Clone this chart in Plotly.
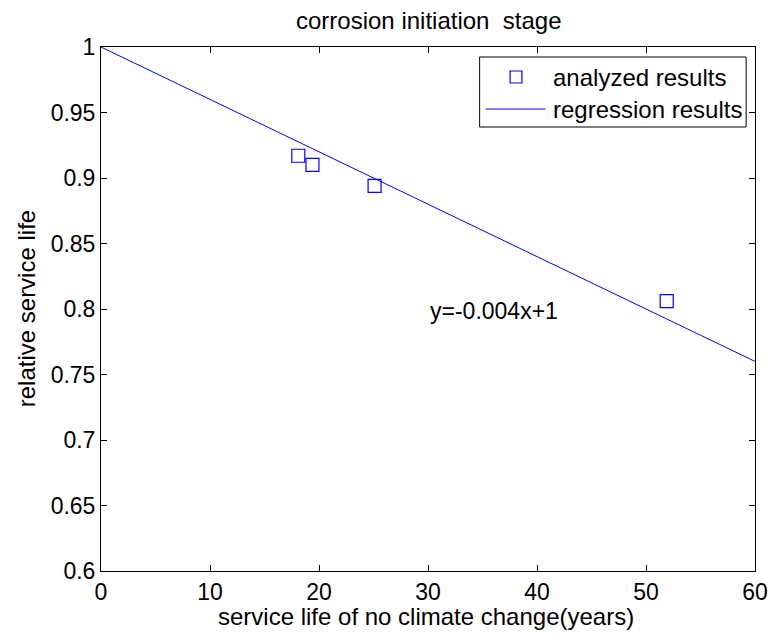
import plotly.graph_objects as go

# Data
analyzed_x = [18.1, 19.4, 25.1, 51.9]
analyzed_y = [0.917, 0.910, 0.894, 0.806]
reg_slope = -0.004
reg_intercept = 1.0
reg_x = [0, 10, 20, 30, 40, 50, 60]
reg_y = [reg_intercept + reg_slope * v for v in reg_x]

x_ticks = [0, 10, 20, 30, 40, 50, 60]
y_ticks = [0.6, 0.65, 0.7, 0.75, 0.8, 0.85, 0.9, 0.95, 1.0]
y_tick_text = ["0.6", "0.65", "0.7", "0.75", "0.8", "0.85", "0.9", "0.95", "1"]

title_text = "corrosion initiation  stage"
x_label = "service life of no climate change(years)"
y_label = "relative service life"
legend_names = ["analyzed results", "regression results"]
eq_text = "y=-0.004x+1"

BLUE = "#0000ff"
FONT = "Liberation Sans, Arial, sans-serif"
FS_TITLE = 24
FS_LABEL = 24
FS_TICK = 23
FS_EQ = 23

L, R, T, B = 101, 14, 47, 64
W, H = 780, 635
PW, PH = W - L - R, H - T - B


def px(xp):
    return (xp - L) / PW


def py(yp):
    return 1 - (yp - T) / PH


fig = go.Figure()
fig.add_trace(go.Scatter(x=reg_x, y=reg_y, mode="lines",
                         line=dict(color=BLUE, width=1), name=legend_names[1],
                         showlegend=False))
fig.add_trace(go.Scatter(x=analyzed_x, y=analyzed_y, mode="markers",
                         marker=dict(symbol="square-open", size=13, color=BLUE,
                                     line=dict(width=1.2, color=BLUE)),
                         name=legend_names[0], showlegend=False))

axis_common = dict(showline=True, linecolor="black", linewidth=1, mirror="ticks",
                   ticks="inside", ticklen=6, tickcolor="black", showgrid=False,
                   zeroline=False, tickfont=dict(family=FONT, size=FS_TICK, color="black"))

fig.update_xaxes(range=[0, 60], tickvals=x_ticks, **axis_common)
fig.update_yaxes(range=[0.6, 1.0], tickvals=y_ticks, ticktext=y_tick_text, **axis_common)

shapes = [
    dict(type="rect", xref="paper", yref="paper", x0=px(486), x1=px(757), y0=py(127), y1=py(57),
         line=dict(color="black", width=1), fillcolor="white", layer="above"),
    dict(type="line", xref="paper", yref="paper", x0=px(492), x1=px(553), y0=py(109), y1=py(109),
         line=dict(color=BLUE, width=1), layer="above"),
    dict(type="rect", xref="paper", yref="paper", x0=px(517), x1=px(529), y0=py(83), y1=py(71),
         line=dict(color=BLUE, width=1.2), layer="above"),
]

annotations = [
    dict(text=title_text, xref="paper", yref="paper", x=0.5, y=py(21), xanchor="center",
         yanchor="middle", showarrow=False, font=dict(family=FONT, size=FS_TITLE, color="black")),
    dict(text=x_label, xref="paper", yref="paper", x=0.497, y=py(616), xanchor="center",
         yanchor="middle", showarrow=False, font=dict(family=FONT, size=FS_LABEL, color="black")),
    dict(text=y_label, xref="paper", yref="paper", x=px(25), y=0.5, xanchor="center",
         yanchor="middle", textangle=-90, showarrow=False,
         font=dict(family=FONT, size=FS_LABEL, color="black")),
    dict(text=eq_text, xref="x", yref="y", x=30, y=0.7985, xanchor="left", yanchor="middle",
         showarrow=False, font=dict(family=FONT, size=FS_EQ, color="black")),
    dict(text=legend_names[0], xref="paper", yref="paper", x=px(559), y=py(77), xanchor="left",
         yanchor="middle", showarrow=False, font=dict(family=FONT, size=FS_LABEL, color="black")),
    dict(text=legend_names[1], xref="paper", yref="paper", x=px(559), y=py(109), xanchor="left",
         yanchor="middle", showarrow=False, font=dict(family=FONT, size=FS_LABEL, color="black")),
]

fig.update_layout(width=W, height=H, margin=dict(l=L, r=R, t=T, b=B),
                  paper_bgcolor="white", plot_bgcolor="white",
                  shapes=shapes, annotations=annotations, showlegend=False)

fig.write_html("out.html")
